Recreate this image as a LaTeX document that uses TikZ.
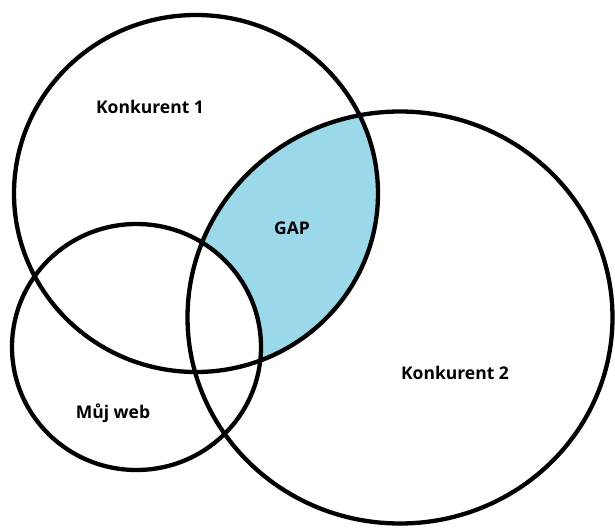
\documentclass[tikz,border=0pt]{standalone}
\usepackage{fontspec}
\setmainfont{Open Sans}
\definecolor{gapblue}{HTML}{9BD8E9}
\tikzset{
  ring/.style={draw=black, line width=4.3pt},
  lbl/.style={font=\fontsize{17.5}{20}\selectfont\bfseries, text=black, inner sep=0pt}
}
\begin{document}
\begin{tikzpicture}[x=1pt,y=-1pt]
\useasboundingbox (0,0) rectangle (615,527);
\coordinate (c1) at (196,193.5);
\coordinate (c2) at (400,317.5);
\coordinate (c3) at (136.5,347);
% GAP region
\begin{scope}
  \clip (c1) ellipse (182 and 178.5);
  \clip (c2) ellipse (212.5 and 206);
  \fill[gapblue] (0,0) rectangle (615,527);
  \fill[white] (c3) ellipse (124.5 and 123);
\end{scope}
\draw[ring] (c1) ellipse (182 and 178.5);
\draw[ring] (c2) ellipse (212.5 and 206);
\draw[ring] (c3) ellipse (124.5 and 123);
\node[lbl] (k1) at (150,107) {Konkurent 1};
\node[lbl] (gap) at (292,228) {GAP};
\node[lbl] (k2) at (455,373) {Konkurent 2};
\node[lbl] (web) at (113,413) {Můj web};
\end{tikzpicture}
\end{document}
